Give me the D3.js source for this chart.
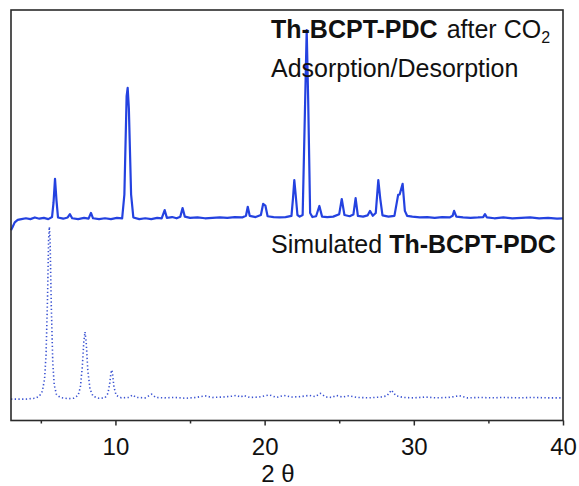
<!DOCTYPE html>
<html>
<head>
<meta charset="utf-8">
<script src="https://cdn.jsdelivr.net/npm/d3@7"></script>
<style>
  body { margin: 0; background: #fff; }
  text { font-family: "Liberation Sans", Arial, sans-serif; fill: #111; }
</style>
</head>
<body>
<script>
// Data: measured pattern (2theta, intensity a.u.)
var measured = [
  [3.0,46.3],[3.1,47.0],[3.25,48.2],[3.45,48.8],[3.7,49.0],[4.0,49.2],[4.3,49.0],[4.6,49.4],[4.9,49.1],[5.2,49.3],
  [5.5,49.0],[5.75,49.5],[5.85,53],[5.95,58.8],[6.05,53.5],[6.15,49.4],[6.5,49.1],[6.8,49.4],[6.95,50.2],[7.1,49.2],
  [7.5,49.0],[7.9,49.3],[8.2,49.1],[8.36,50.5],[8.5,49.2],[8.9,49.0],[9.3,49.2],[9.7,49.0],[10.1,49.3],[10.45,49.2],
  [10.6,55],[10.75,79],[10.82,81.0],[10.9,76],[11.05,55],[11.2,49.4],[11.6,49.0],[12.0,49.2],[12.4,49.0],[12.8,49.3],
  [13.1,49.2],[13.3,51.2],[13.45,49.3],[13.8,49.5],[14.1,49.2],[14.35,49.6],[14.5,51.7],[14.65,49.6],[15.0,49.3],[15.5,49.4],
  [16.0,49.2],[16.5,49.3],[17.0,49.4],[17.5,49.3],[18.0,49.5],[18.5,49.4],[18.75,49.8],[18.87,52.0],[19.0,49.8],[19.4,49.5],
  [19.75,50],[19.9,52.7],[20.05,52.3],[20.2,49.7],[20.6,49.5],[21.0,49.4],[21.4,49.5],[21.8,49.8],[21.9,54],[21.99,58.5],
  [22.08,55],[22.2,50],[22.35,49.6],[22.55,50],[22.7,75],[22.82,95.1],[22.92,78],[23.05,50.5],[23.2,49.5],[23.45,49.7],
  [23.67,52.2],[23.85,49.6],[24.2,49.5],[24.6,49.6],[25.0,50.2],[25.17,53.9],[25.35,50.0],[25.7,49.7],[25.95,50.1],[26.1,54.1],
  [26.25,49.8],[26.6,49.6],[26.9,49.9],[27.06,51.0],[27.25,49.8],[27.45,50.5],[27.62,58.5],[27.75,54],[27.9,49.9],[28.3,49.6],
  [28.7,49.8],[28.95,54.9],[29.05,55],[29.25,57.6],[29.4,51],[29.55,49.8],[29.9,49.6],[30.4,49.4],[30.9,49.5],[31.4,49.3],
  [31.9,49.5],[32.4,49.4],[32.6,49.8],[32.7,51.0],[32.85,49.6],[33.3,49.4],[33.8,49.3],[34.3,49.4],[34.65,49.5],[34.77,50.2],
  [34.9,49.4],[35.4,49.2],[36.0,49.4],[36.6,49.2],[37.2,49.3],[37.8,49.4],[38.4,49.2],[39.0,49.3],[39.6,49.1],[40.0,49.2]
];

// Data: simulated pattern
var simulated = [
  [3.0,5.1],[4.0,5.1],[4.6,5.3],[4.9,5.8],[5.1,7],[5.25,10],[5.35,16],[5.45,30],[5.52,44],[5.57,47.1],
  [5.62,44],[5.7,28],[5.8,14],[5.9,8.5],[6.05,6.2],[6.3,5.5],[6.8,5.2],[7.2,5.3],[7.5,6],[7.65,8],
  [7.78,13],[7.88,19],[7.96,21.5],[8.04,19],[8.15,12],[8.3,7.5],[8.5,5.8],[8.9,5.3],[9.3,5.4],[9.5,6.5],
  [9.62,9],[9.7,11.5],[9.75,12.2],[9.8,11.5],[9.9,8],[10.05,6],[10.4,5.4],[10.9,5.5],[11.15,6.1],[11.4,5.5],
  [12.0,5.4],[12.43,6.3],[12.7,5.5],[13.3,5.4],[14.0,5.5],[14.7,5.3],[15.4,5.5],[16.0,5.9],[16.5,5.5],[17.2,5.6],
  [17.8,5.8],[18.1,6.0],[18.4,5.6],[18.6,6.0],[19.0,5.5],[19.6,5.6],[20.33,6.1],[20.8,5.5],[21.3,6.0],[21.8,5.6],
  [22.4,5.7],[23.0,6.0],[23.4,5.7],[23.74,6.5],[24.1,5.6],[24.5,5.5],[24.8,6.0],[25.2,5.6],[25.65,5.9],[26.2,5.5],
  [27.0,5.4],[27.8,5.6],[28.2,5.9],[28.5,7.3],[28.8,5.9],[29.3,5.5],[30.0,5.4],[30.8,5.6],[31.5,5.4],[32.3,5.5],
  [33.07,5.9],[33.6,5.4],[34.4,5.5],[35.2,5.4],[36.0,5.5],[37.0,5.4],[38.0,5.5],[39.0,5.4],[40.0,5.4]
];

var majorTicks = [10, 20, 30, 40];
var minorTicks = [5, 15, 25, 35];

// Skalaer
var plotLeft = 11, plotRight = 563, plotTop = 10, plotBottom = 420.5;
var xScale = d3.scaleLinear().domain([3, 40]).range([plotLeft, plotRight]);
var yScale = d3.scaleLinear().domain([0, 100]).range([420, 10]);

var svg = d3.select("body").append("svg").attr("width", 579).attr("height", 486);

var line = d3.line()
  .x(function(d) { return xScale(d[0]); })
  .y(function(d) { return yScale(d[1]); });

// Simulated (dotted)
svg.append("path")
  .datum(simulated)
  .attr("d", line)
  .attr("fill", "none")
  .attr("stroke", "#3a52d2")
  .attr("stroke-width", 1.6)
  .attr("stroke-dasharray", "1.3,2.4");

// Measured
svg.append("path")
  .datum(measured)
  .attr("d", line)
  .attr("fill", "none")
  .attr("stroke", "#2442e0")
  .attr("stroke-width", 2.2)
  .attr("stroke-linejoin", "round");

// Frame
svg.append("rect")
  .attr("x", plotLeft).attr("y", plotTop)
  .attr("width", plotRight - plotLeft).attr("height", plotBottom - plotTop)
  .attr("fill", "none")
  .attr("stroke", "#2a2a2a")
  .attr("stroke-width", 1.6);

// Aksen
var xAxis = d3.axisBottom(xScale).tickValues(majorTicks).tickSize(5).tickPadding(12).tickFormat(d3.format("d"));
var gx = svg.append("g").attr("transform", "translate(0," + plotBottom + ")").call(xAxis);
gx.select(".domain").remove();
gx.selectAll("line").attr("stroke", "#2a2a2a").attr("stroke-width", 1.5);
gx.selectAll("text").attr("font-size", 24).attr("fill", "#111")
  .style("font-family", "'Liberation Sans', Arial, sans-serif");

var gm = svg.append("g").attr("transform", "translate(0," + plotBottom + ")")
  .call(d3.axisBottom(xScale).tickValues(minorTicks).tickSize(3).tickFormat(""));
gm.select(".domain").remove();
gm.selectAll("line").attr("stroke", "#2a2a2a").attr("stroke-width", 1.5);

svg.append("text")
  .attr("x", 278).attr("y", 482)
  .attr("text-anchor", "middle")
  .attr("font-size", 24)
  .text("2 θ");

// Labels
var t1 = svg.append("text").attr("x", 271).attr("y", 37.5).attr("font-size", 25);
t1.append("tspan").attr("font-weight", "bold").text("Th-BCPT-PDC");
t1.append("tspan").attr("dx", 9).text("after CO");
t1.append("tspan").attr("font-size", 16).attr("dy", 5).text("2");

svg.append("text").attr("x", 271).attr("y", 77).attr("font-size", 25).text("Adsorption/Desorption");

var t2 = svg.append("text").attr("x", 271).attr("y", 253).attr("font-size", 25);
t2.append("tspan").text("Simulated ");
t2.append("tspan").attr("font-weight", "bold").text("Th-BCPT-PDC");
</script>
</body>
</html>
